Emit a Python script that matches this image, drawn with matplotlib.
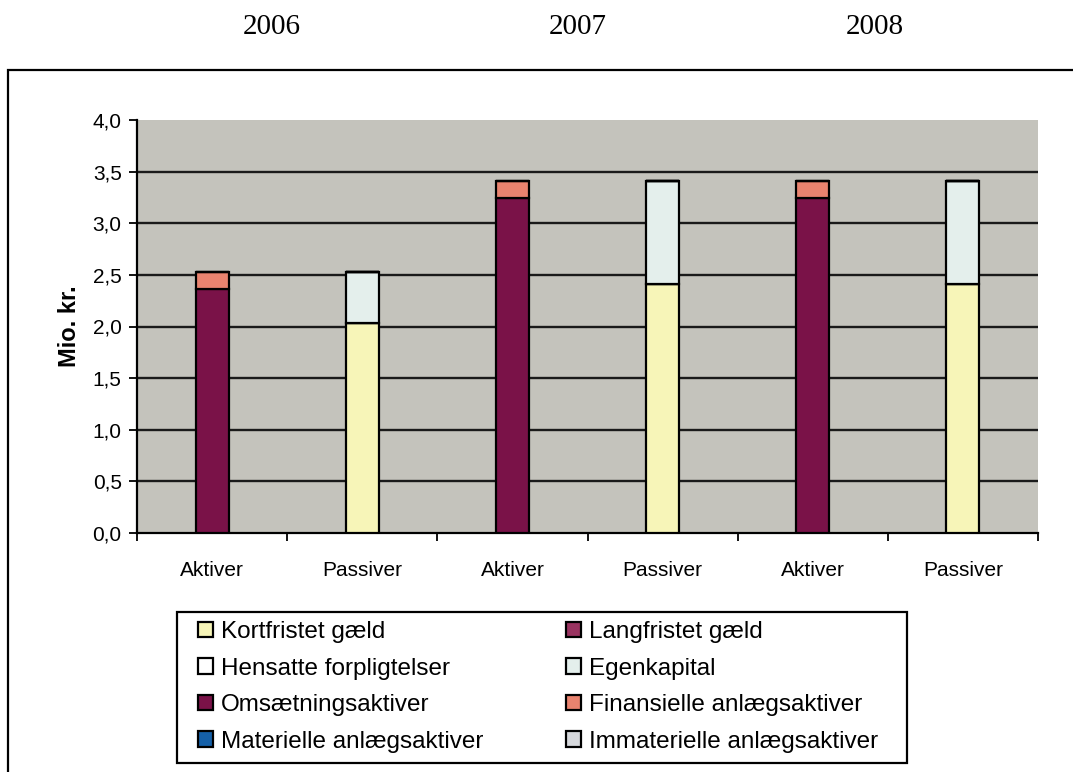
import matplotlib.pyplot as plt
import numpy as np
from matplotlib.patches import Rectangle

years = ['2006', '2007', '2008']
categories = ['Aktiver', 'Passiver', 'Aktiver', 'Passiver', 'Aktiver', 'Passiver']

# one value per bar (Aktiver/Passiver for each year), Mio. kr.
kortfristet = [0, 2.03, 0, 2.41, 0, 2.41]
langfristet = [0, 0, 0, 0, 0, 0]
hensatte = [0, 0, 0, 0, 0, 0]
egenkapital = [0, 0.50, 0, 1.00, 0, 1.00]
omsaetning = [2.36, 0, 3.24, 0, 3.24, 0]
finansielle = [0.17, 0, 0.17, 0, 0.17, 0]
materielle = [0, 0, 0, 0, 0, 0]
immaterielle = [0, 0, 0, 0, 0, 0]

series = [
    ('Kortfristet gæld', kortfristet, '#f7f5b8'),
    ('Langfristet gæld', langfristet, '#993360'),
    ('Hensatte forpligtelser', hensatte, '#ffffff'),
    ('Egenkapital', egenkapital, '#e4efec'),
    ('Omsætningsaktiver', omsaetning, '#7a1248'),
    ('Finansielle anlægsaktiver', finansielle, '#e9836f'),
    ('Materielle anlægsaktiver', materielle, '#1560a8'),
    ('Immaterielle anlægsaktiver', immaterielle, '#d6d8dc'),
]


def main():
    plt.rcParams['font.family'] = ['Liberation Sans', 'DejaVu Sans']
    fig = plt.figure(figsize=(10.73, 7.72), dpi=100)
    ax = fig.add_axes([137 / 1073, 239 / 772, 901 / 1073, 413 / 772])
    ax.set_facecolor('#c4c3bc')

    x = np.arange(len(categories))
    bottom = np.zeros(len(categories))
    handles = {}
    for name, vals, color in series:
        vals = np.array(vals, float)
        bars = ax.bar(x, vals, 0.22, bottom=bottom, color=color,
                      edgecolor='black', linewidth=1.6, zorder=3, label=name)
        handles[name] = bars
        bottom += vals

    for yv in np.arange(0.5, 4.0, 0.5):
        ax.axhline(yv, color='#1a1a1a', linewidth=1.7, zorder=1)

    ax.set_xlim(-0.5, len(categories) - 0.5)
    ax.set_ylim(0, 4.0)
    ax.set_yticks(np.arange(0, 4.01, 0.5))
    ax.set_yticklabels([f'{v:.1f}'.replace('.', ',') for v in np.arange(0, 4.01, 0.5)],
                       fontsize=15)
    ax.set_xticks(np.arange(-0.5, len(categories), 1.0))
    ax.set_xticklabels([])
    ax.set_xticks(x, minor=True)
    ax.set_xticklabels(categories, minor=True, fontsize=15)
    ax.tick_params(axis='x', which='minor', length=0, pad=20)
    ax.tick_params(axis='both', which='major', length=6, width=1.3, direction='out')
    ax.tick_params(axis='y', pad=5)
    for side in ['top', 'right']:
        ax.spines[side].set_visible(False)
    for side in ['left', 'bottom']:
        ax.spines[side].set_linewidth(1.6)
    ax.set_ylabel('Mio. kr.', fontsize=17, fontweight='bold', labelpad=8)

    for i, year in enumerate(years):
        fig.text([0.2535, 0.5387, 0.8155][i], 0.965, year, fontsize=21,
                 family='Liberation Serif', ha='center', va='center')

    fig.add_artist(Rectangle((8 / 1073, -0.1), 1.2, 1.0093, transform=fig.transFigure,
                             fill=False, edgecolor='black', linewidth=1.6))

    # legend box drawn separately, entries placed inside it
    fig.add_artist(Rectangle((177 / 1073, 1 - 763 / 772), 730 / 1073, 151 / 772,
                             transform=fig.transFigure, fill=False,
                             edgecolor='black', linewidth=1.6))
    order = ['Kortfristet gæld', 'Hensatte forpligtelser', 'Omsætningsaktiver',
             'Materielle anlægsaktiver', 'Langfristet gæld', 'Egenkapital',
             'Finansielle anlægsaktiver', 'Immaterielle anlægsaktiver']
    fig.legend([handles[n] for n in order], order, ncol=2, loc='upper left',
               bbox_to_anchor=(198 / 1073, 1 - 621 / 772), fontsize=17.5,
               frameon=False, borderpad=0, borderaxespad=0, handlelength=0.6,
               handleheight=0.6, handletextpad=0.35, columnspacing=3.4,
               labelspacing=0.6)

    fig.savefig('out.png', dpi=100)


if __name__ == "__main__":
    main()
